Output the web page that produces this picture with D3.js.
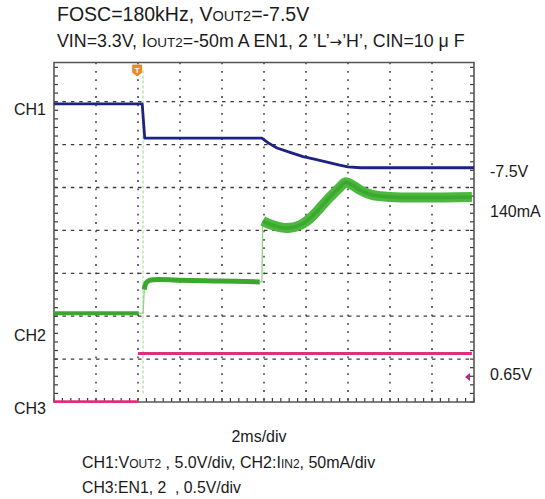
<!DOCTYPE html>
<html>
<head>
<meta charset="utf-8">
<script src="https://cdn.jsdelivr.net/npm/d3@7"></script>
<style>
  html, body { margin: 0; padding: 0; background: #fff; }
  svg { display: block; }
  text { font-family: "Liberation Sans", Arial, sans-serif; fill: #1a1a1a; }
</style>
</head>
<body>
<svg id="chart" width="545" height="499"></svg>
<script>
// ---- data (time in divisions 0..10, level in divisions 0..8) ----
const ch1Time  = [0, 2.10, 2.16, 4.95, 5.10, 5.31, 5.62, 5.93, 6.20, 6.50, 6.80, 7.00, 7.30, 10];
const ch1Level = [6.95, 6.95, 6.15, 6.15, 6.04, 5.92, 5.82, 5.72, 5.66, 5.59, 5.52, 5.48, 5.46, 5.46];

const ch2PreTime   = [0, 2.02];
const ch2PreLevel  = [2.07, 2.07];
const ch2RiseTime  = [2.02, 2.12, 2.15];
const ch2RiseLevel = [2.07, 2.07, 2.62];
const ch2MidTime   = [2.15, 2.19, 2.29, 3.00, 3.95, 4.90];
const ch2MidLevel  = [2.62, 2.77, 2.84, 2.84, 2.82, 2.80];
const ch2JumpTime  = [4.90, 4.95, 4.97];
const ch2JumpLevel = [2.80, 2.80, 4.22];
const ch2PostTime  = [4.97, 5.05, 5.21, 5.40, 5.62, 5.85, 6.02, 6.20, 6.33, 6.57, 6.81, 6.93, 7.10, 7.29, 7.57, 8.00, 9.95];
const ch2PostLevel = [4.22, 4.18, 4.12, 4.07, 4.06, 4.12, 4.22, 4.38, 4.52, 4.78, 5.01, 5.12, 5.06, 4.94, 4.83, 4.78, 4.78];

const ch3LowTime   = [0, 2.0];
const ch3LowLevel  = [0.01, 0.01];
const ch3HighTime  = [2.0, 9.95];
const ch3HighLevel = [1.13, 1.13];

const spikeTime  = [2.12, 2.12];
const spikeLevel = [0.2, 7.75];

const triggerTime = 1.98;
const ch3RefLevel = 0.58;

const leftLabels  = [{t: "CH1", lv: 6.82}, {t: "CH2", lv: 1.57}, {t: "CH3", lv: -0.15}];
const rightLabels = [{t: "-7.5V", lv: 5.38}, {t: "140mA", lv: 4.46}, {t: "0.65V", lv: 0.66}];

const xDivs = 10, yDivs = 8;

// ---- layout ----
const svg = d3.select("#chart");
const L = 54, R = 474, B = 402, T = 58.8, frameTop = 62.5;
const x = d3.scaleLinear().domain([0, xDivs]).range([L, R]);
const y = d3.scaleLinear().domain([0, yDivs]).range([B, T]);

const zip = (a, b) => a.map((v, i) => [v, b[i]]);
const line = d3.line().x(d => x(d[0])).y(d => y(d[1]));
const smooth = d3.line().x(d => x(d[0])).y(d => y(d[1])).curve(d3.curveCatmullRom.alpha(0.5));

// grid
const grid = svg.append("g");
grid.selectAll("line.h").data(d3.range(1, yDivs)).join("line")
  .attr("x1", L).attr("x2", R).attr("y1", d => y(d)).attr("y2", d => y(d))
  .attr("stroke", "#3a3a3a").attr("stroke-width", 1.3).attr("stroke-dasharray", "3.5,4.9");
grid.selectAll("line.v").data(d3.range(1, xDivs)).join("line")
  .attr("x1", d => x(d)).attr("x2", d => x(d)).attr("y1", frameTop).attr("y2", B)
  .attr("stroke", "#3a3a3a").attr("stroke-width", 1.5).attr("stroke-dasharray", "1.8,6.6");

// minor ticks on frame
const minorY = d3.range(0, yDivs * 5 + 1).map(i => i / 5).filter(v => y(v) > frameTop + 2);
grid.selectAll("line.tl").data(minorY).join("line")
  .attr("x1", L).attr("x2", L + 4).attr("y1", d => y(d)).attr("y2", d => y(d))
  .attr("stroke", "#3a3a3a").attr("stroke-width", 1.2);
grid.selectAll("line.tr").data(minorY).join("line")
  .attr("x1", R - 4).attr("x2", R).attr("y1", d => y(d)).attr("y2", d => y(d))
  .attr("stroke", "#3a3a3a").attr("stroke-width", 1.2);
const minorX = d3.range(0, xDivs * 5 + 1).map(i => i / 5);
grid.selectAll("line.tb").data(minorX).join("line")
  .attr("x1", d => x(d)).attr("x2", d => x(d)).attr("y1", B - 4).attr("y2", B)
  .attr("stroke", "#3a3a3a").attr("stroke-width", 1.2);

// frame
svg.append("path")
  .attr("d", `M${L},${frameTop}H${R}V${B}H${L}Z`)
  .attr("fill", "none").attr("stroke", "#555").attr("stroke-width", 1.6);

// traces
const tr = svg.append("g").attr("fill", "none").attr("stroke-linejoin", "round");
tr.append("path").datum(zip(spikeTime, spikeLevel)).attr("d", line)
  .attr("stroke", "#a8e09a").attr("stroke-width", 1.2).attr("stroke-dasharray", "3,2");
tr.append("path").datum(zip(ch3LowTime, ch3LowLevel)).attr("d", line)
  .attr("stroke", "#e0307c").attr("stroke-width", 2.8);
tr.append("path").datum(zip(ch3HighTime, ch3HighLevel)).attr("d", line)
  .attr("stroke", "#e0307c").attr("stroke-width", 2.8);
tr.append("path").datum(zip(ch2PreTime, ch2PreLevel)).attr("d", line)
  .attr("stroke", "#3aa82c").attr("stroke-width", 4);
tr.append("path").datum(zip(ch2RiseTime, ch2RiseLevel)).attr("d", line)
  .attr("stroke", "#8fd47e").attr("stroke-width", 1.3);
tr.append("path").datum(zip(ch2MidTime, ch2MidLevel)).attr("d", smooth)
  .attr("stroke", "#3aa82c").attr("stroke-width", 5);
tr.append("path").datum(zip(ch2JumpTime, ch2JumpLevel)).attr("d", line)
  .attr("stroke", "#8fd47e").attr("stroke-width", 1.3);
tr.append("path").datum(zip(ch2PostTime, ch2PostLevel)).attr("d", smooth)
  .attr("stroke", "#4cb83e").attr("stroke-width", 10).attr("stroke-linecap", "butt");
tr.append("path").datum(zip(ch2PostTime, ch2PostLevel)).attr("d", smooth)
  .attr("stroke", "#2f9a22").attr("stroke-width", 3.5).attr("stroke-opacity", 0.55);
tr.append("path").datum(zip(ch1Time, ch1Level)).attr("d", line)
  .attr("stroke", "#1e2282").attr("stroke-width", 2.8);

// trigger marker
const tx = x(triggerTime);
svg.append("path")
  .attr("d", `M${tx - 4.5},65 h9 v7.5 l-4.5,3.5 l-4.5,-3.5 Z`)
  .attr("fill", "#f08a22").attr("stroke", "#e07a10").attr("stroke-width", 0.8).attr("stroke-linejoin", "round");
svg.append("text").attr("x", tx).attr("y", 73).attr("text-anchor", "middle")
  .style("fill", "#fff").style("font-size", "8px").style("font-weight", "bold").text("T");

// ch3 reference marker
const my = y(ch3RefLevel);
svg.append("path").attr("d", `M${R - 9},${my} l5,-4 v8 Z`).attr("fill", "#b02e8e");

// side labels
svg.selectAll("text.ll").data(leftLabels).join("text")
  .attr("x", 14).attr("y", d => y(d.lv) + 6)
  .style("font-size", "16px").text(d => d.t);
svg.selectAll("text.rl").data(rightLabels).join("text")
  .attr("x", 490).attr("y", d => y(d.lv) + 6)
  .style("font-size", "16px").text(d => d.t);

// titles
const t1 = svg.append("text").attr("x", 57).attr("y", 21).style("font-size", "19.5px");
t1.append("tspan").text("FOSC=180kHz, V");
t1.append("tspan").style("font-size", "14.5px").text("OUT2");
t1.append("tspan").text("=-7.5V");

const t2 = svg.append("text").attr("x", 57).attr("y", 47).style("font-size", "17.8px");
t2.append("tspan").text("VIN=3.3V, I");
t2.append("tspan").style("font-size", "13.5px").text("OUT2");
t2.append("tspan").text("=-50m A EN1, 2 \u2019L\u2019");
t2.append("tspan").style("font-family", "DejaVu Sans").style("font-size", "15px").text("\u2192");
t2.append("tspan").text("\u2019H\u2019, CIN=10 \u03bc F");

svg.append("text").attr("x", 259).attr("y", 442).attr("text-anchor", "middle")
  .style("font-size", "16px").text("2ms/div");

const b1 = svg.append("text").attr("x", 82).attr("y", 468).style("font-size", "16px");
b1.append("tspan").text("CH1:V");
b1.append("tspan").style("font-size", "12px").text("OUT2");
b1.append("tspan").text(" , 5.0V/div, CH2:I");
b1.append("tspan").style("font-size", "12px").text("IN2");
b1.append("tspan").text(", 50mA/div");

svg.append("text").attr("x", 82).attr("y", 493).style("font-size", "15.8px")
  .text("CH3:EN1, 2\u00a0\u00a0, 0.5V/div");
</script>
</body>
</html>
